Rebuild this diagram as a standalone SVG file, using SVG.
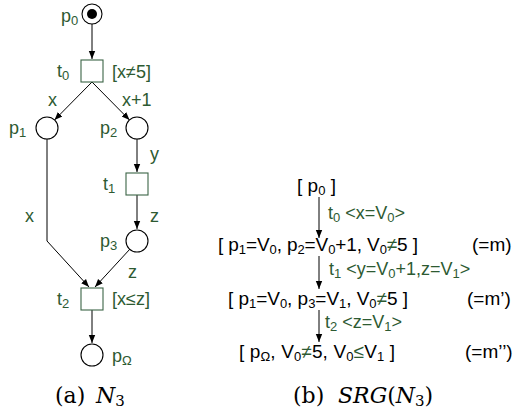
<svg xmlns="http://www.w3.org/2000/svg" width="518" height="412" viewBox="0 0 518 412">
  <defs>
    <marker id="arr" viewBox="0 0 10 10" refX="10" refY="5" markerWidth="8" markerHeight="8" markerUnits="userSpaceOnUse" orient="auto">
      <path d="M0,1 L10,5 L0,9 Z" fill="#000"/>
    </marker>
    <style>
      text { font-family: "Liberation Sans", Arial, sans-serif; font-size: 18px; }
      .big { font-size: 19px; }
      .g { fill: #2d5a32; }
      .k { fill: #000; }
      .sub { font-size: 13px; }
      .place { fill: #fff; stroke: #000; stroke-width: 1.1; }
      .trans { fill: #fff; stroke: #3b6446; stroke-width: 1.1; }
      .arc { fill: none; stroke: #000; stroke-width: 1; marker-end: url(#arr); }
      .cap { font-family: "DejaVu Serif", "Liberation Serif", serif; font-size: 22px; fill: #000; }
      .it { font-style: italic; }
    </style>
  </defs>

  <!-- (a) Petri net N3 -->
  <g id="connectors">
    <path class="arc" d="M92,24 L92,59"/>
    <path class="arc" d="M92,82 L54.5,120"/>
    <path class="arc" d="M92,82 L129.5,120"/>
    <path class="arc" d="M137,139 L137,172"/>
    <path class="arc" d="M137,195 L137,229"/>
    <path class="arc" d="M47,139 L47,241 L89,287"/>
    <path class="arc" d="M130,249 L95,287"/>
    <path class="arc" d="M92,310 L92,343"/>
    <!-- reachability graph edges -->
    <path class="arc" d="M319,197 L319,238"/>
    <path class="arc" d="M319,256 L319,289"/>
    <path class="arc" d="M319,310 L319,342"/>
  </g>

  <g id="p0">
    <circle class="place" cx="92" cy="14" r="10"/>
    <circle cx="92" cy="14" r="5" fill="#000"/>
    <text class="g" x="61" y="22">p<tspan class="sub" dy="3">0</tspan></text>
  </g>
  <g id="t0">
    <rect class="trans" x="81" y="60" width="22" height="22"/>
    <text class="g" x="57" y="77">t<tspan class="sub" dy="3">0</tspan></text>
    <text class="g" x="112" y="78">[x≠5]</text>
  </g>
  <g id="p1">
    <circle class="place" cx="47" cy="128" r="11"/>
    <text class="g" x="9" y="134">p<tspan class="sub" dy="3">1</tspan></text>
  </g>
  <g id="p2">
    <circle class="place" cx="137" cy="128" r="11"/>
    <text class="g" x="100" y="134">p<tspan class="sub" dy="3">2</tspan></text>
  </g>
  <g id="t1">
    <rect class="trans" x="126" y="173" width="22" height="22"/>
    <text class="g" x="103" y="190">t<tspan class="sub" dy="3">1</tspan></text>
  </g>
  <g id="p3">
    <circle class="place" cx="137" cy="241" r="11"/>
    <text class="g" x="100" y="247">p<tspan class="sub" dy="3">3</tspan></text>
  </g>
  <g id="t2">
    <rect class="trans" x="81" y="288" width="22" height="22"/>
    <text class="g" x="57" y="305">t<tspan class="sub" dy="3">2</tspan></text>
    <text class="g" x="112" y="305">[x≤z]</text>
  </g>
  <g id="pOmega">
    <circle class="place" cx="92" cy="355" r="11"/>
    <text class="g" x="112" y="362">p<tspan class="sub" dy="3">Ω</tspan></text>
  </g>

  <!-- arc inscriptions -->
  <g id="arc-labels">
    <text class="g" x="48" y="106">x</text>
    <text class="g" x="122" y="106">x+1</text>
    <text class="g" x="150" y="160">y</text>
    <text class="g" x="150" y="222">z</text>
    <text class="g" x="25" y="222">x</text>
    <text class="g" x="128" y="278">z</text>
  </g>

  <!-- sub-figure captions -->
  <text class="cap" x="55" y="403">(a)</text>
  <text class="cap" x="96" y="403"><tspan class="it">N</tspan><tspan font-size="15" dy="3">3</tspan></text>

  <!-- (b) symbolic reachability graph -->
  <g id="m0">
    <text class="k big" x="297" y="192">[ p<tspan class="sub" dy="3">0</tspan><tspan dy="-3"> ]</tspan></text>
  </g>
  <g id="m">
    <text class="k big" x="218" y="251" textLength="200" lengthAdjust="spacing">[ p<tspan class="sub" dy="3">1</tspan><tspan dy="-3">=V</tspan><tspan class="sub" dy="3">0</tspan><tspan dy="-3">, p</tspan><tspan class="sub" dy="3">2</tspan><tspan dy="-3">=V</tspan><tspan class="sub" dy="3">0</tspan><tspan dy="-3">+1, V</tspan><tspan class="sub" dy="3">0</tspan><tspan class="g" dy="-3">≠</tspan>5 ]</text>
    <text class="k big" x="472" y="251">(=m)</text>
  </g>
  <g id="m1">
    <text class="k big" x="228" y="305" textLength="180" lengthAdjust="spacing">[ p<tspan class="sub" dy="3">1</tspan><tspan dy="-3">=V</tspan><tspan class="sub" dy="3">0</tspan><tspan dy="-3">, p</tspan><tspan class="sub" dy="3">3</tspan><tspan dy="-3">=V</tspan><tspan class="sub" dy="3">1</tspan><tspan dy="-3">, V</tspan><tspan class="sub" dy="3">0</tspan><tspan class="g" dy="-3">≠</tspan>5 ]</text>
    <text class="k big" x="467" y="305">(=m’)</text>
  </g>
  <g id="m2">
    <text class="k big" x="239" y="358" textLength="156" lengthAdjust="spacing">[ p<tspan class="sub" dy="3">Ω</tspan><tspan dy="-3">, V</tspan><tspan class="sub" dy="3">0</tspan><tspan class="g" dy="-3">≠</tspan>5, V<tspan class="sub" dy="3">0</tspan><tspan class="g" dy="-3">≤</tspan>V<tspan class="sub" dy="3">1</tspan><tspan dy="-3"> ]</tspan></text>
    <text class="k big" x="465" y="358">(=m’’)</text>
  </g>
  <g id="edge-labels">
    <text class="g" x="328" y="219">t<tspan class="sub" dy="3">0</tspan><tspan dy="-3"> &lt;x=V</tspan><tspan class="sub" dy="3">0</tspan><tspan dy="-3">&gt;</tspan></text>
    <text class="g" x="329" y="275">t<tspan class="sub" dy="3">1</tspan><tspan dy="-3"> &lt;y=V</tspan><tspan class="sub" dy="3">0</tspan><tspan dy="-3">+1,z=V</tspan><tspan class="sub" dy="3">1</tspan><tspan dy="-3">&gt;</tspan></text>
    <text class="g" x="325" y="328">t<tspan class="sub" dy="3">2</tspan><tspan dy="-3"> &lt;z=V</tspan><tspan class="sub" dy="3">1</tspan><tspan dy="-3">&gt;</tspan></text>
  </g>

  <text class="cap" x="293" y="403">(b)</text>
  <text class="cap" x="338" y="403"><tspan class="it">SRG</tspan>(<tspan class="it">N</tspan><tspan font-size="15" dy="3">3</tspan><tspan dy="-3">)</tspan></text>
</svg>
